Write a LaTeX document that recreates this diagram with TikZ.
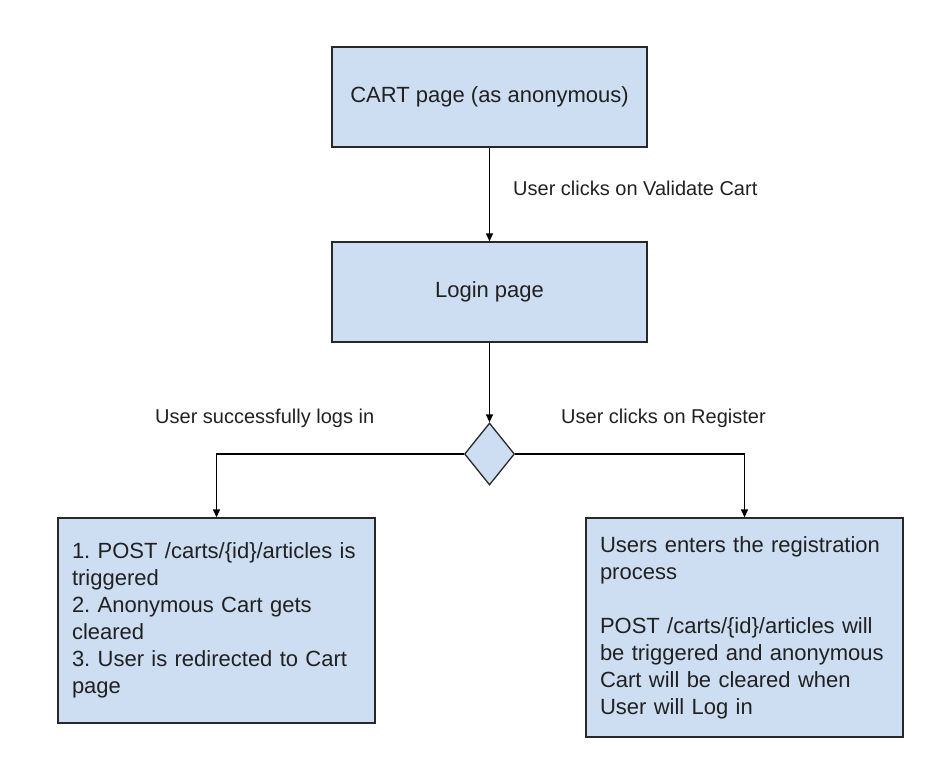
\documentclass[tikz,border=0pt]{standalone}
\usepackage{fontspec}
\setmainfont{Liberation Sans}
\usetikzlibrary{shapes.geometric,arrows.meta}
\frenchspacing
\definecolor{boxfill}{RGB}{205,221,242}
\definecolor{boxline}{RGB}{40,40,40}
\definecolor{txt}{RGB}{33,33,33}
\tikzset{
  flowbox/.style={draw=boxline, fill=boxfill, line width=1.3pt, inner sep=0pt,
    text=txt, font=\fontsize{22}{27}\selectfont},
  notebox/.style={flowbox, align=left, text width=289pt, inner xsep=14pt, inner ysep=0pt},
  decision/.style={draw=boxline, fill=boxfill, line width=1.3pt, diamond, inner sep=0pt,
    minimum width=50pt, minimum height=62pt},
  flowarrow/.style={draw=black, line width=1.3pt, -{Triangle[length=8pt,width=7pt]}},
  flowlabel/.style={text=txt, inner sep=0pt, font=\fontsize{20}{24}\selectfont},
}
\begin{document}
\begin{tikzpicture}[x=1pt,y=-1pt]
\useasboundingbox (0,0) rectangle (950,765);
\node[flowbox, minimum width=315pt, minimum height=100pt] (cart) at (489.5,97) {CART page (as anonymous)};
\node[flowbox, minimum width=315pt, minimum height=100pt] (login) at (489.5,292) {Login page};
\node[decision] (dec) at (489.5,454) {};
\node[notebox, minimum height=205pt] (left) at (216.5,620.5) {1. POST /carts/\{id\}/articles is\\triggered\\2. Anonymous Cart gets\\cleared\\3. User is redirected to Cart\\page};
\node[notebox, minimum height=219pt] (right) at (744.5,627.5) {Users enters the registration\\process\\[27pt]POST /carts/\{id\}/articles will\\be triggered and anonymous\\Cart will be cleared when\\User will Log in};
\draw[flowarrow] (cart) -- (login);
\draw[flowarrow] (login) -- (dec);
\draw[flowarrow] (dec.west) -| (left.north);
\draw[flowarrow] (dec.east) -| (right.north);
\node[flowlabel, anchor=base west] (lvalidate) at (513,195) {User clicks on Validate Cart};
\node[flowlabel, anchor=base west] (lsuccess) at (155,423) {User successfully logs in};
\node[flowlabel, anchor=base west] (lregister) at (561,423) {User clicks on Register};
\end{tikzpicture}
\end{document}
